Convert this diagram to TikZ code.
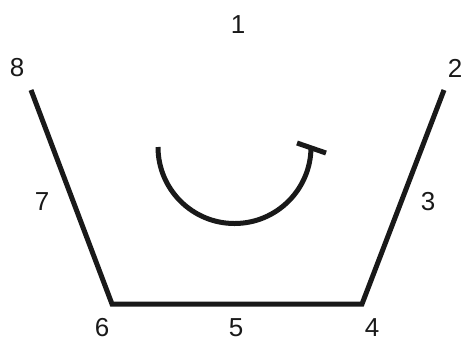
\documentclass[tikz,border=0pt]{standalone}
\usepackage{fontspec}
\setmainfont{Liberation Sans}
\usetikzlibrary{positioning}

\begin{document}
\begin{tikzpicture}[x=1pt, y=-1pt,
    sdedge/.style={line width=5pt, black!90, line join=miter},
    sdnum/.style={font=\fontsize{26}{30}\selectfont, inner sep=0pt, text=black!90}
  ]
    \useasboundingbox (0,0) rectangle (462,341);

    % corners of the open trapezoid, in picture pixels (y runs down)
    \coordinate (c8) at (31,90);
    \coordinate (c6) at (112,304);
    \coordinate (c4) at (362,304);
    \coordinate (c2) at (444,90);

    \draw[sdedge] (c8) -- (c6) -- (c4) -- (c2);

    % turning arrow with a bar end
    \coordinate (tstart) at (158,147);
    \coordinate (barl) at (297,143);
    \coordinate (barr) at (326,153);
    \draw[sdedge] (tstart) arc[start angle=180, end angle=0, radius=76.5];
    \draw[sdedge] (barl) -- (barr);

    \node[sdnum] (n1) at (238,25)  {1};
    \node[sdnum] (n2) at (455,68)  {2};
    \node[sdnum] (n3) at (428,202) {3};
    \node[sdnum] (n4) at (372,328) {4};
    \node[sdnum] (n5) at (236,328) {5};
    \node[sdnum] (n6) at (102,328) {6};
    \node[sdnum] (n7) at (42,202)  {7};
    \node[sdnum] (n8) at (17,68)   {8};
  \end{tikzpicture}
\end{document}
